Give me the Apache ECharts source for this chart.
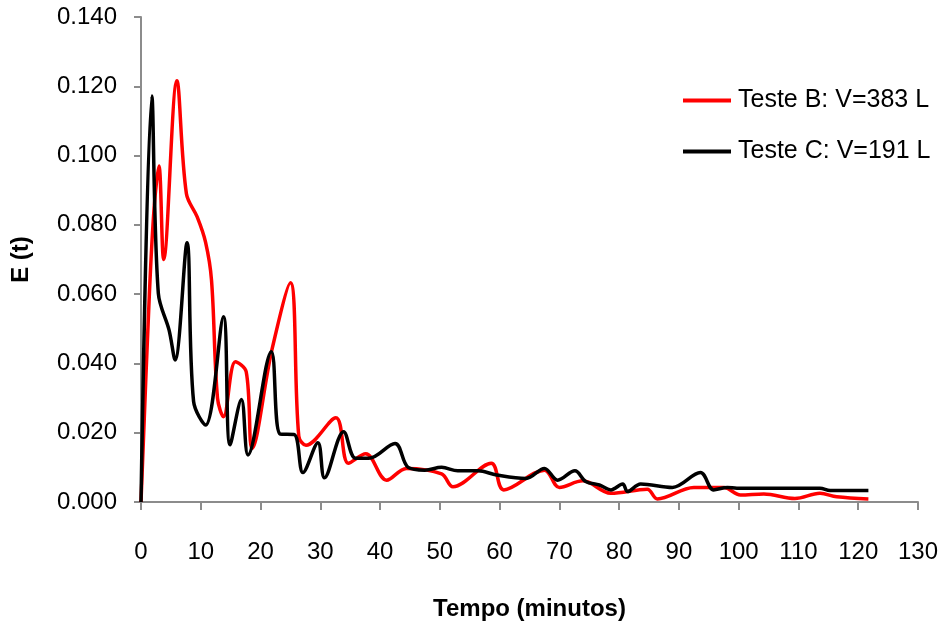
<!DOCTYPE html>
<html><head><meta charset="utf-8">
<script src="https://cdn.jsdelivr.net/npm/echarts@6/dist/echarts.min.js"></script>
<style>html,body{margin:0;padding:0;background:#fff}#c{width:945px;height:631px}</style>
</head><body><div id="c"></div>
<script>
var seriesNames = ['Teste B: V=383 L', 'Teste C: V=191 L'];
var xTicks = [0,10,20,30,40,50,60,70,80,90,100,110,120,130];
var yTicks = [0.000,0.020,0.040,0.060,0.080,0.100,0.120,0.140];
var tB = [0,1.4,2.2,3.0,3.8,6.0,7.6,9.4,10.8,11.8,12.8,13.8,15.8,17.6,18.6,21.9,25.0,26.4,27.6,32.6,34.7,37.6,41.1,44.4,50.3,52.2,58.6,60.7,67.5,70.0,73.9,78.6,84.7,86.4,92.5,97.5,100.3,104.2,109.4,113.6,116.4,121.7];
var eB = [0,0.060,0.085,0.097,0.070,0.1216,0.089,0.0823,0.075,0.064,0.030,0.0246,0.0405,0.0376,0.0155,0.0439,0.0633,0.019,0.0164,0.0243,0.0112,0.0139,0.0063,0.0097,0.0081,0.0044,0.0112,0.0035,0.0092,0.0042,0.0061,0.0025,0.0037,0.0009,0.0042,0.0042,0.0020,0.0023,0.0010,0.0025,0.0015,0.0009];
var tC = [0,1.8,2.9,4.7,5.7,7.7,8.8,10.8,13.8,14.9,16.8,17.9,21.8,23.3,25.6,27.1,29.6,30.7,33.9,35.9,38.1,42.5,44.7,47.5,50.3,53.0,56.4,59.5,64.4,67.5,69.7,72.6,74.4,76.7,78.6,80.6,81.4,83.6,88.9,93.6,95.8,98.1,99.7,113.6,115.3,121.7];
var eC = [0,0.1172,0.0602,0.0496,0.041,0.0748,0.029,0.0222,0.0535,0.0165,0.0296,0.0136,0.0434,0.0196,0.0195,0.0085,0.0171,0.0070,0.0203,0.0126,0.0126,0.0169,0.0100,0.0092,0.0100,0.0090,0.0090,0.0078,0.0068,0.0097,0.0063,0.0090,0.0059,0.0049,0.0035,0.0052,0.0030,0.0052,0.0042,0.0085,0.0035,0.0042,0.0040,0.0040,0.0033,0.0033];

function zip(a,b){return a.map(function(v,i){return [v,b[i]];});}
var FONT = '"Liberation Sans", Arial, sans-serif';
var chart = echarts.init(document.getElementById('c'), null, {renderer:'canvas'});
var axisGrey = '#8c8c8c';
chart.setOption({
  animation:false,
  backgroundColor:'#fff',
  grid:{left:141, right:27, top:17, bottom:129, containLabel:false, outerBoundsMode:'none'},
  legend:{
    orient:'vertical', left:678, top:83, itemGap:26,
    itemWidth:48, itemHeight:4, icon:'rect',
    data:seriesNames,
    textStyle:{fontFamily:FONT, fontSize:25, color:'#000', padding:[0,0,0,2]}
  },
  xAxis:{
    type:'value', min:xTicks[0], max:xTicks[xTicks.length-1], interval:10,
    name:'Tempo (minutos)', nameLocation:'middle', nameGap:95,
    nameTextStyle:{fontFamily:FONT, fontSize:24, fontWeight:'bold', color:'#000'},
    axisLine:{show:true, lineStyle:{color:axisGrey, width:2}},
    axisTick:{show:true, length:8, lineStyle:{color:axisGrey, width:2}},
    axisLabel:{fontFamily:FONT, fontSize:24, color:'#000', margin:38},
    splitLine:{show:false}
  },
  yAxis:{
    type:'value', min:yTicks[0], max:yTicks[yTicks.length-1], interval:0.02,
    name:'E (t)', nameLocation:'middle', nameGap:108, nameRotate:90,
    nameTextStyle:{fontFamily:FONT, fontSize:24, fontWeight:'bold', color:'#000'},
    axisLine:{show:true, lineStyle:{color:axisGrey, width:2}},
    axisTick:{show:true, length:7, lineStyle:{color:axisGrey, width:2}},
    axisLabel:{fontFamily:FONT, fontSize:24, color:'#000', margin:24, formatter:function(v){return v.toFixed(3);}},
    splitLine:{show:false}
  },
  series:[
    {name:seriesNames[0], type:'line', data:zip(tB,eB), smooth:0.35, symbol:'none',
     lineStyle:{color:'#ff0000', width:3.5}, itemStyle:{color:'#ff0000'}, z:2},
    {name:seriesNames[1], type:'line', data:zip(tC,eC), smooth:0.35, symbol:'none',
     lineStyle:{color:'#000000', width:3.5}, itemStyle:{color:'#000000'}, z:3}
  ]
});
</script></body></html>
